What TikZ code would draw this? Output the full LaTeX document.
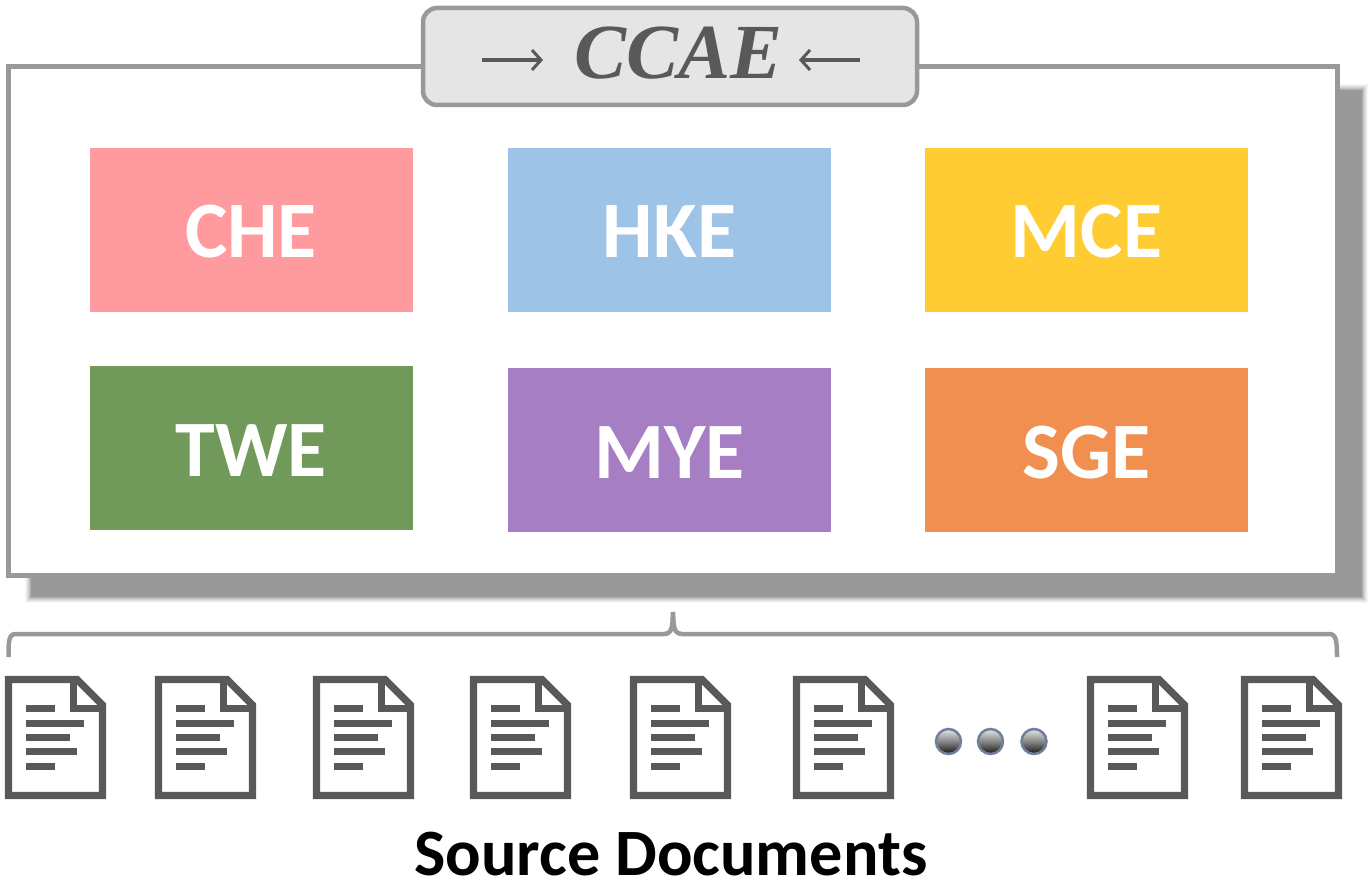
\documentclass[tikz,border=0pt]{standalone}
\usepackage{fontspec}
\setmainfont{Carlito}
\newfontfamily\titlefont{Liberation Serif}
\usetikzlibrary{arrows.meta}
\definecolor{framegray}{HTML}{999999}
\definecolor{titlefill}{HTML}{E6E5E6}
\definecolor{inkgray}{HTML}{595959}
\definecolor{dotedge}{HTML}{6F7F9C}
\tikzset{
  x=1pt,y=-1pt,
  tile/.style={anchor=north west,inner sep=0pt,outer sep=0pt,minimum width=323pt,minimum height=164pt,
    text height=60pt,text depth=4pt,
    text=white,font=\fontsize{80}{80}\selectfont\bfseries},
  frameline/.style={draw=framegray,line width=5pt},
  inkline/.style={draw=inkgray,line width=4pt},
  docstroke/.style={draw=inkgray,line width=7.4pt,miter limit=10},
  dotball/.style={circle,inner sep=0pt,minimum size=25pt,draw=dotedge,line width=2.5pt,
    top color=gray!20,bottom color=black!92,middle color=gray!95},
  pics/docicon/.style={code={
    \draw[docstroke,fill=white,line join=miter]
      (3.5,3.5) -- (72,3.5) -- (97.5,29) -- (97.5,119.5) -- (3.5,119.5) -- cycle;
    \draw[docstroke] (68.5,0) -- (68.5,32.5) -- (101,32.5);
    \fill[inkgray] (21.3,29.2) rectangle ++(29,7);
    \fill[inkgray] (21.3,43.5) rectangle ++(58,7);
    \fill[inkgray] (21.3,57.8) rectangle ++(43.5,7);
    \fill[inkgray] (21.3,72.2) rectangle ++(50.5,7);
    \fill[inkgray] (21.3,86.5) rectangle ++(29,7);
  }}
}
\begin{document}
\begin{tikzpicture}
\useasboundingbox (0,0) rectangle (1371,882);
% shadow with a soft edge
\foreach \d/\s in {6/8,5/18,4/30,3/45,2/60,1/78,0/100}{
  \fill[framegray!\s] (31-\d,90-\d) rectangle (1362+\d,597+\d);
}
% frame and title
\draw[frameline,fill=white] (8,67) rectangle (1337,575);
\node[draw=framegray,line width=4.5pt,fill=titlefill,rounded corners=14pt,minimum width=494pt,minimum height=97pt,
  inner sep=0pt,outer sep=0pt,anchor=north west] (titlebox) at (423,8) {};
\node[text=inkgray,inner sep=0pt] (ccae) at (678.5,53)
  {\titlefont\fontsize{78}{78}\selectfont\bfseries\itshape CCAE};
\coordinate (al0) at (482,60); \coordinate (al1) at (543,60);
\coordinate (ar0) at (860,60); \coordinate (ar1) at (799,60);
\draw[inkline,-{Straight Barb[length=9pt,width=20pt,line width=3pt]}] (al0) -- (al1);
\draw[inkline,-{Straight Barb[length=9pt,width=20pt,line width=3pt]}] (ar0) -- (ar1);
% tiles
\node[tile,fill={rgb,255:red,255;green,155;blue,159}] (che) at (89.5,148) {CHE};
\node[tile,fill={rgb,255:red,157;green,195;blue,230}] (hke) at (508,148) {HKE};
\node[tile,fill={rgb,255:red,255;green,205;blue,51}] (mce) at (925,148) {MCE};
\node[tile,fill={rgb,255:red,112;green,153;blue,90}] (twe) at (89.5,366) {TWE};
\node[tile,fill={rgb,255:red,166;green,126;blue,196}] (mye) at (508,368) {MYE};
\node[tile,fill={rgb,255:red,240;green,143;blue,80}] (sge) at (925,368) {SGE};
% brace
\coordinate (bl) at (8.5,657); \coordinate (br) at (1337,657); \coordinate (tip) at (673,612);
\draw[draw=framegray,line width=4.5pt]
  (bl) .. controls (8.5,640) and (9,634) .. (16,634) -- (664,634)
  .. controls (670,634) and (672,630) .. (672.5,622) -- (tip)
  -- (673.5,622) .. controls (674,630) and (676,634) .. (682,634) -- (1329,634)
  .. controls (1336,634) and (1337,640) .. (br);
% documents
\foreach \n/\x in {a/5,b/155,c/313,d/470,e/630,f/793,g/1087,h/1241}{
  \pic (doc\n) at (\x,676) {docicon};
}
% dots
\node[dotball] (dot1) at (948.5,741.5) {};
\node[dotball] (dot2) at (990.5,741.5) {};
\node[dotball] (dot3) at (1034,741.5) {};
% caption
\node[inner sep=0pt,font=\fontsize{66.2}{66.2}\selectfont\bfseries] (caption) at (671,854) {Source Documents};
\end{tikzpicture}
\end{document}
